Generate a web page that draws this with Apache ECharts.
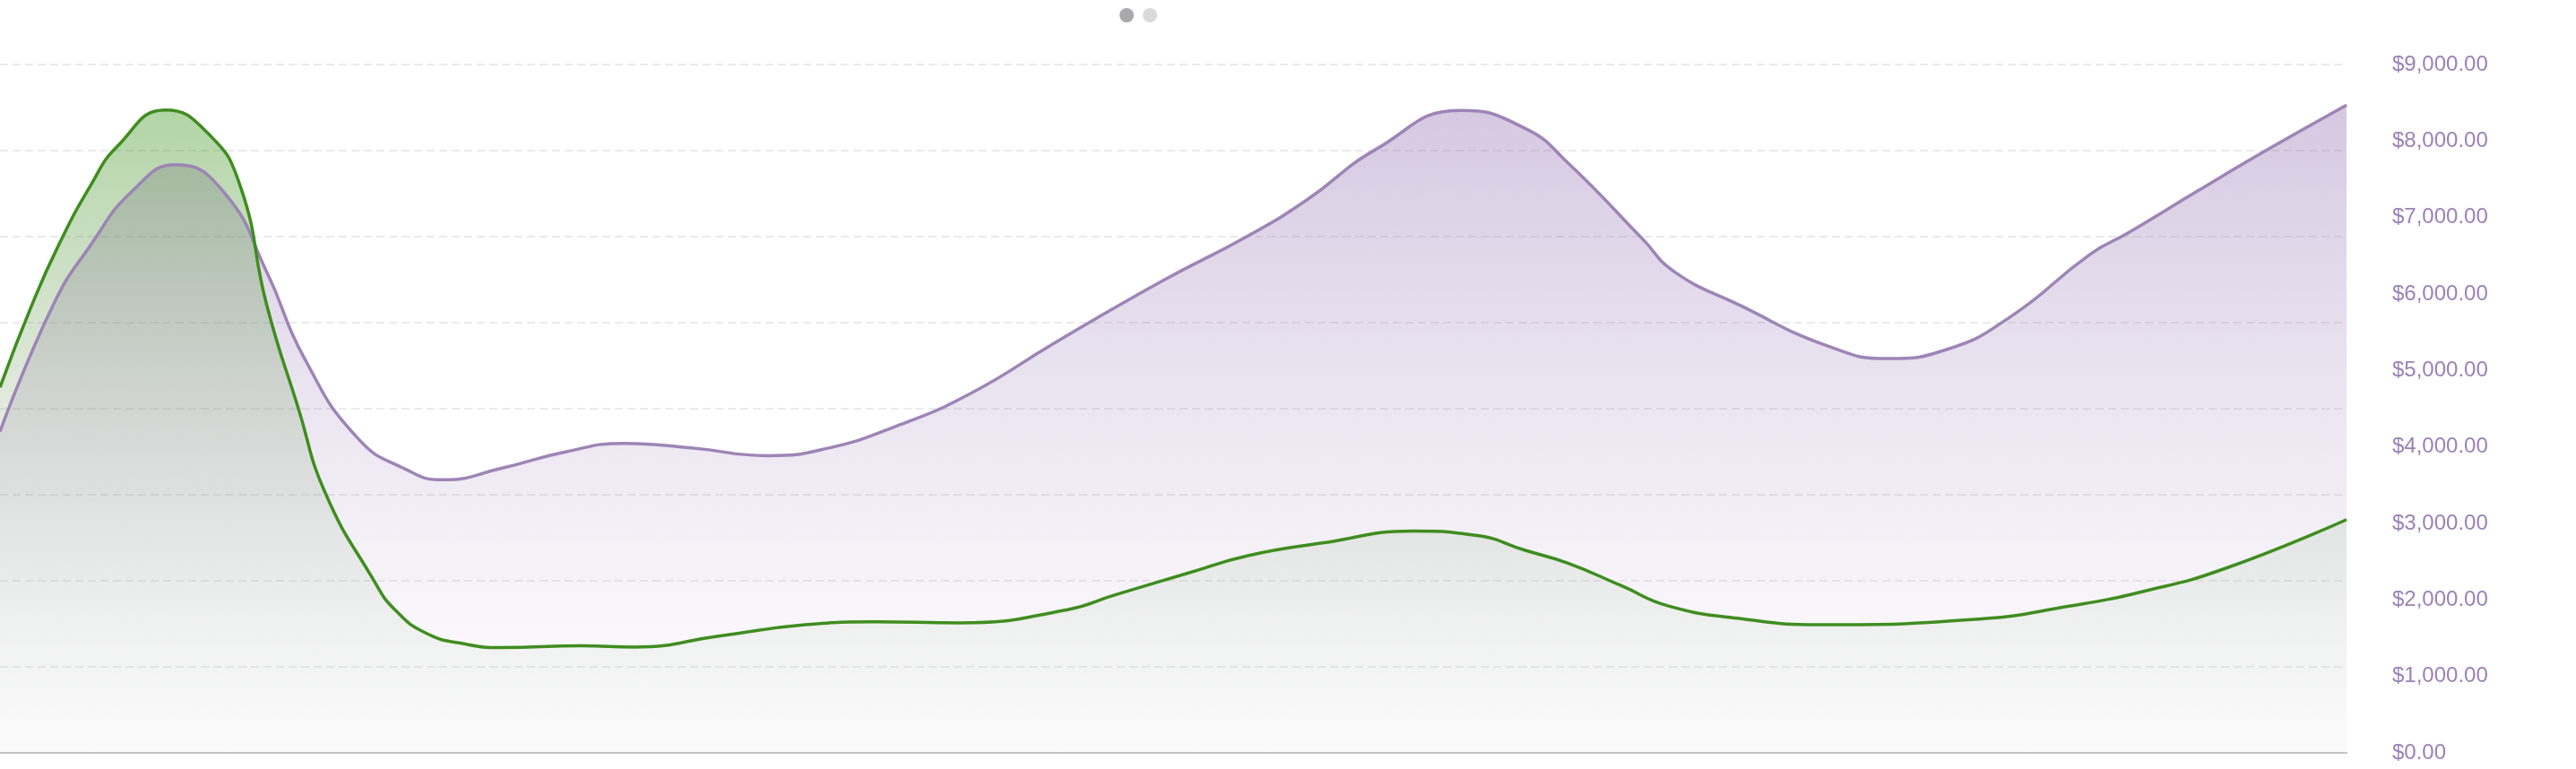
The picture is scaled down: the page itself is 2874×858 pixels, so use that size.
<!DOCTYPE html>
<html>
<head>
<meta charset="utf-8">
<script src="https://cdn.jsdelivr.net/npm/echarts@6/dist/echarts.min.js"></script>
<style>
html,body{margin:0;padding:0;background:#fff;}
#chart{width:2874px;height:858px;}
</style>
</head>
<body>
<div id="chart"></div>
<script>
// Day offsets (0..220) and values
const purpleDays   = [0,5,8.5,12.5,16.5,21,25,28.5,33.5,38,41.5,47,53,58.5,65,72,77.5,84,91,99,109,117,122.5,129,137,143,147,154,157,163,171.5,177,182.5,188.5,196,199.5,206,212.5,220];
const purpleValues = [4200,5860,6640,7360,7690,7330,6290,5170,4120,3710,3570,3720,3935,4047,3984,3886,3980,4270,4700,5370,6172,6758,7227,7891,8398,8164,7715,6719,6289,5860,5312,5156,5273,5703,6523,6797,7344,7880,8470];
const greenDays    = [0,3,5.5,8.5,11,15.5,19.5,22.5,25,28,30.5,35,37,40,43.5,47,54.5,59.5,67.5,75.5,82,90,100,104.5,111.5,117,124,132.5,138.5,143,147,152,156.5,163.5,170.5,185.5,194,201,208.5,220];
const greenValues  = [4780,5860,6640,7420,7930,8406,8100,7422,5860,4492,3398,2266,1875,1562,1426,1377,1399,1384,1529,1676,1714,1700,1870,2064,2355,2578,2744,2900,2842,2648,2480,2186,1918,1749,1676,1749,1918,2113,2405,3050];
const yTicks = [0,1000,2000,3000,4000,5000,6000,7000,8000,9000];
const legendNames = ['Income','Expenses'];

const pairs = (xs, ys) => xs.map((x, i) => [x, ys[i]]);
const chart = echarts.init(document.getElementById('chart'));
const money = v => '$' + Number(v).toLocaleString('en-US',{minimumFractionDigits:2,maximumFractionDigits:2});

chart.setOption({
  animation:false,
  backgroundColor:'#ffffff',
  legend:{
    left:1244, top:4, icon:'circle', itemWidth:16, itemHeight:16, itemGap:10,
    formatter:()=>'', textStyle:{fontSize:1},
    selectedMode:false,
    data:[
      {name:legendNames[0], itemStyle:{color:'#a9a9ab'}},
      {name:legendNames[1], itemStyle:{color:'#dadadb'}}
    ]
  },
  grid:{left:0, right:256, top:72, bottom:18, containLabel:false},
  xAxis:{
    type:'value', min:0, max:220,
    axisLine:{show:true, onZero:false, lineStyle:{color:'#bdbdbd', width:2}},
    axisTick:{show:false}, axisLabel:{show:false}, splitLine:{show:false}
  },
  yAxis:[
    {
      type:'value', position:'left', min:0, max:8, interval:1,
      axisLabel:{show:false}, axisLine:{show:false}, axisTick:{show:false},
      splitLine:{show:true, lineStyle:{type:[9,5], color:'#e4e4e4', width:1.5}}
    },
    {
      type:'value', position:'right', min:yTicks[0], max:yTicks[yTicks.length-1], interval:1000,
      axisLine:{show:false}, axisTick:{show:false}, splitLine:{show:false},
      axisLabel:{formatter:money, color:'#9b82b6', fontSize:24, margin:51, fontFamily:'Liberation Sans, Arial, sans-serif'}
    }
  ],
  series:[
    {
      name:legendNames[1], type:'line', yAxisIndex:1, data:pairs(purpleDays, purpleValues), smooth:true, showSymbol:false,
      lineStyle:{color:'#9e84b6', width:3.5},
      itemStyle:{color:'#9e84b6'},
      areaStyle:{opacity:1, color:new echarts.graphic.LinearGradient(0,0,0,1,[
        {offset:0, color:'rgba(155,122,182,0.42)'},
        {offset:0.6, color:'rgba(185,165,205,0.21)'},
        {offset:1, color:'rgba(240,236,244,0.10)'}
      ])}
    },
    {
      name:legendNames[0], type:'line', yAxisIndex:1, data:pairs(greenDays, greenValues), smooth:true, showSymbol:false,
      lineStyle:{color:'#3f8d1f', width:3.5},
      itemStyle:{color:'#3f8d1f'},
      areaStyle:{opacity:1, color:new echarts.graphic.LinearGradient(0,0,0,1,[
        {offset:0, color:'rgba(70,155,40,0.42)'},
        {offset:0.5, color:'rgba(100,145,80,0.17)'},
        {offset:1, color:'rgba(235,235,235,0.12)'}
      ])}
    }
  ]
});
</script>
</body>
</html>
